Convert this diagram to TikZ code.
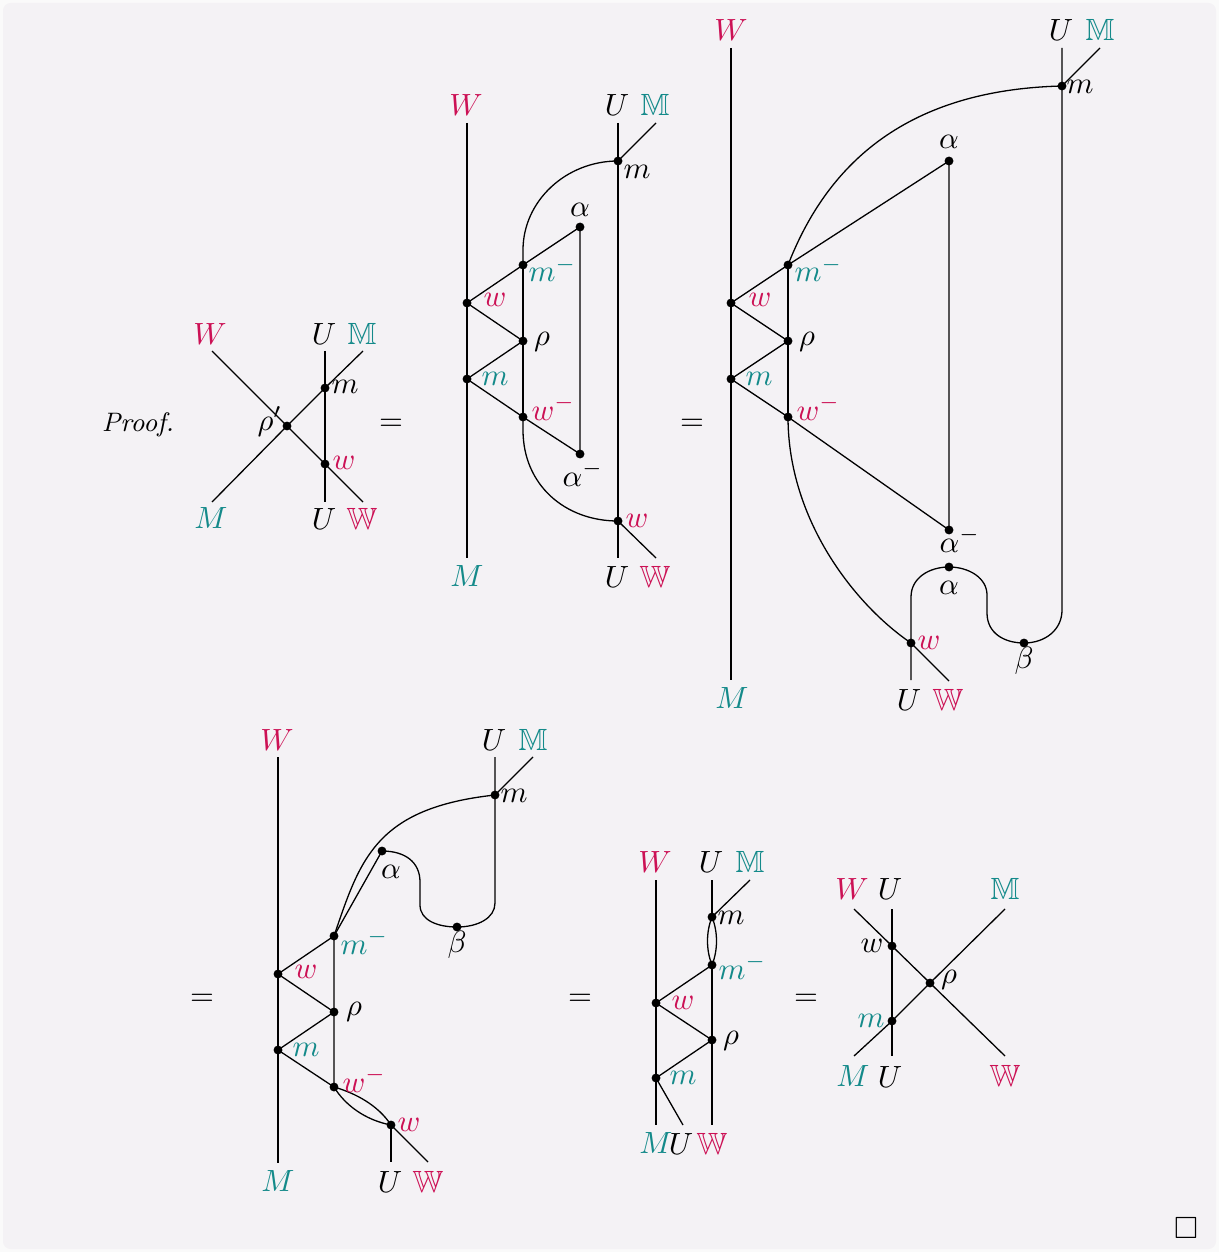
\documentclass[tikz,border=0pt]{standalone}
\usepackage{amssymb}
\definecolor{crim}{RGB}{204,17,85}
\definecolor{tealc}{RGB}{20,138,138}
\definecolor{bgc}{RGB}{244,242,245}
\definecolor{outc}{RGB}{250,250,250}
\begin{document}
\begin{tikzpicture}[x=0.3257pt,y=-0.3257pt,
  dot/.style={circle,fill=black,inner sep=0pt,minimum size=2.9pt},
  lab/.style={inner sep=0pt},
  wire/.style={line width=0.42pt},
  cr/.style={text=crim}, tl/.style={text=tealc}]
\fill[outc] (0,0) rectangle (1219,1252);
\fill[bgc, rounded corners=2.5pt] (3,3) rectangle (1216,1249);
\useasboundingbox (0,0) rectangle (1219,1252);

% ---------- Diagram 1 ----------
\coordinate (a1) at (212,351);
\coordinate (a2) at (363,502);
\coordinate (a3) at (212,502);
\coordinate (a4) at (363,351);
\coordinate (a5) at (325,351);
\coordinate (a6) at (325,502);
\node[dot] (arho) at (287,426) {};
\node[dot] (am) at (325,388) {};
\node[dot] (aw) at (325,464) {};
\draw[wire] (a1) -- (arho.center) -- (aw.center) -- (a2);
\draw[wire] (a3) -- (arho.center) -- (am.center) -- (a4);
\draw[wire] (a5) -- (am.center) -- (aw.center) -- (a6);
\node[lab,cr] (aW) at (210,334) {$W$};
\node[lab] (aU1) at (324,334) {$U$};
\node[lab,tl] (aMM) at (362,334) {$\mathbb{M}$};
\node[lab,tl] (aM) at (211,518) {$M$};
\node[lab] (aU2) at (324,519) {$U$};
\node[lab,cr] (aWW) at (362,519) {$\mathbb{W}$};
\node[lab,anchor=west] (amL) at (331,387) {$m$};
\node[lab,cr,anchor=west] (awL) at (332,463) {$w$};
\node[lab,anchor=base west] (arhoL) at (257,430) {$\rho'$};
\node[lab] (proof) at (138,425) {\fontsize{8.7}{10}\selectfont\itshape Proof.};
\node[lab] (eq1) at (391,425) {$=$};

% ---------- Diagram 2 ----------
\coordinate (b1) at (467,123);
\coordinate (b2) at (467,558);
\coordinate (b3) at (618,123);
\coordinate (b4) at (618,558);
\coordinate (b5) at (656,123);
\coordinate (b6) at (656,558);
\node[dot] (bm) at (618,161) {};
\node[dot] (bmm) at (523,265) {};
\node[dot] (balpha) at (580,227) {};
\node[dot] (bw) at (467,303) {};
\node[dot] (brho) at (523,341) {};
\node[dot] (bmd) at (467,379) {};
\node[dot] (bwm) at (523,417) {};
\node[dot] (balm) at (580,454) {};
\node[dot] (bwd) at (618,521) {};
\draw[wire] (b1) -- (bw.center) -- (bmd.center) -- (b2);
\draw[wire] (b3) -- (bm.center) -- (bwd.center) -- (b4);
\draw[wire] (b5) -- (bm.center);
\draw[wire] (bwd.center) -- (b6);
\draw[wire] (bm.center) .. controls (566,161) and (523,201) .. (523,250) -- (bmm.center);
\draw[wire] (bmm.center) -- (brho.center) -- (bwm.center);
\draw[wire] (bw.center) -- (bmm.center) -- (balpha.center) -- (balm.center) -- (bwm.center);
\draw[wire] (bw.center) -- (brho.center) -- (bmd.center) -- (bwm.center);
\draw[wire] (bwm.center) -- (523,430) .. controls (523,485) and (565,521) .. (bwd.center);
\node[lab,cr] (bW) at (466,105) {$W$};
\node[lab,tl] (bM) at (467,576) {$M$};
\node[lab] (bU1) at (617,105) {$U$};
\node[lab,tl] (bMM) at (655,105) {$\mathbb{M}$};
\node[lab] (bU2) at (617,577) {$U$};
\node[lab,cr] (bWW) at (655,577) {$\mathbb{W}$};
\node[lab] (bmL) at (637,172) {$m$};
\node[lab] (balphaL) at (580,210) {$\alpha$};
\node[lab,tl,anchor=base west] (bmmL) at (528,282) {$m^-$};
\node[lab,cr] (bwL) at (495,300) {$w$};
\node[lab] (brhoL) at (542,342) {$\rho$};
\node[lab,tl] (bmdL) at (495,379) {$m$};
\node[lab,cr,anchor=base west] (bwmL) at (531,420) {$w^-$};
\node[lab,anchor=base west] (balmL) at (562,486) {$\alpha^-$};
\node[lab,cr] (bwdL) at (637,521) {$w$};
\node[lab] (eq2) at (692,425) {$=$};

% ---------- Diagram 3 ----------
\coordinate (c1) at (731,48);
\coordinate (c2) at (731,680);
\coordinate (c3) at (1062,48);
\coordinate (c5) at (1100,48);
\coordinate (c6) at (911,680);
\coordinate (c7) at (949,681);
\node[dot] (cm) at (1062,86) {};
\node[dot] (calpha) at (949,161) {};
\node[dot] (cmm) at (788,265) {};
\node[dot] (cw) at (731,303) {};
\node[dot] (crho) at (788,341) {};
\node[dot] (cmd) at (731,379) {};
\node[dot] (cwm) at (788,417) {};
\node[dot] (calm) at (949,530) {};
\node[dot] (calpha2) at (949,567) {};
\node[dot] (cwd) at (911,643) {};
\node[dot] (cbeta) at (1024,643) {};
\draw[wire] (c1) -- (cw.center) -- (cmd.center) -- (c2);
\draw[wire] (c5) -- (cm.center);
\draw[wire] (c3) -- (cm.center) -- (1062,610) .. controls (1062,630) and (1045,643) .. (cbeta.center)
   .. controls (1004,643) and (987,633) .. (987,613) -- (987,595)
   .. controls (987,578) and (969,567) .. (calpha2.center)
   .. controls (929,567) and (911,578) .. (911,597) -- (cwd.center) -- (c6);
\draw[wire] (cwd.center) -- (c7);
\draw[wire] (cmm.center) .. controls (825,170) and (900,90) .. (cm.center);
\draw[wire] (cwm.center) .. controls (788,520) and (855,605) .. (cwd.center);
\draw[wire] (cmm.center) -- (crho.center) -- (cwm.center);
\draw[wire] (cw.center) -- (cmm.center) -- (calpha.center) -- (calm.center) -- (cwm.center);
\draw[wire] (cw.center) -- (crho.center) -- (cmd.center) -- (cwm.center);
\node[lab,cr] (cW) at (731,30) {$W$};
\node[lab] (cU1) at (1061,30) {$U$};
\node[lab,tl] (cMM) at (1100,30) {$\mathbb{M}$};
\node[lab,tl] (cM) at (732,698) {$M$};
\node[lab] (cU2) at (909,700) {$U$};
\node[lab,cr] (cWW) at (948,700) {$\mathbb{W}$};
\node[lab] (cmL) at (1080,87) {$m$};
\node[lab] (calphaL) at (949,142) {$\alpha$};
\node[lab,tl,anchor=base west] (cmmL) at (794,282) {$m^-$};
\node[lab,cr] (cwL) at (760,300) {$w$};
\node[lab] (crhoL) at (807,342) {$\rho$};
\node[lab,tl] (cmdL) at (759,379) {$m$};
\node[lab,cr,anchor=base west] (cwmL) at (796,420) {$w^-$};
\node[lab,anchor=base west] (calmL) at (939,552) {$\alpha^-$};
\node[lab] (calpha2L) at (949,588) {$\alpha$};
\node[lab,cr] (cwdL) at (929,643) {$w$};
\node[lab] (cbetaL) at (1024,661) {$\beta$};

% ---------- Diagram 4 ----------
\coordinate (d1) at (278,757);
\coordinate (d2) at (278,1163);
\coordinate (d3) at (495,757);
\coordinate (d5) at (533,757);
\coordinate (d6) at (391,1162);
\coordinate (d7) at (428,1162);
\node[dot] (dm) at (495,795) {};
\node[dot] (dalpha) at (382,851) {};
\node[dot] (dbeta) at (457,927) {};
\node[dot] (dmm) at (334,936) {};
\node[dot] (dw) at (278,974) {};
\node[dot] (drho) at (334,1012) {};
\node[dot] (dmd) at (278,1050) {};
\node[dot] (dwm) at (334,1087) {};
\node[dot] (dwd) at (391,1125) {};
\draw[wire] (d1) -- (dw.center) -- (dmd.center) -- (d2);
\draw[wire] (d5) -- (dm.center);
\draw[wire] (d3) -- (dm.center) -- (495,903) .. controls (495,918) and (478,927) .. (dbeta.center)
   .. controls (437,927) and (420,920) .. (420,905) -- (420,882)
   .. controls (420,862) and (405,851) .. (dalpha.center);
\draw[wire] (dmm.center) .. controls (360,860) and (375,808) .. (dm.center);
\draw[wire] (dmm.center) -- (dalpha.center);
\draw[wire] (dw.center) -- (dmm.center) -- (drho.center) -- (dwm.center);
\draw[wire] (dw.center) -- (drho.center) -- (dmd.center) -- (dwm.center);
\draw[wire] (dwm.center) .. controls (355,1093) and (378,1105) .. (dwd.center);
\draw[wire] (dwm.center) .. controls (345,1105) and (365,1120) .. (dwd.center);
\draw[wire] (dwd.center) -- (d6);
\draw[wire] (dwd.center) -- (d7);
\node[lab,cr] (dW) at (277,740) {$W$};
\node[lab] (dU1) at (494,740) {$U$};
\node[lab,tl] (dMM) at (533,740) {$\mathbb{M}$};
\node[lab,tl] (dM) at (278,1181) {$M$};
\node[lab] (dU2) at (390,1182) {$U$};
\node[lab,cr] (dWW) at (428,1182) {$\mathbb{W}$};
\node[lab] (dmL) at (514,796) {$m$};
\node[lab] (dalphaL) at (391,872) {$\alpha$};
\node[lab] (dbetaL) at (457,945) {$\beta$};
\node[lab,tl,anchor=base west] (dmmL) at (340,954) {$m^-$};
\node[lab,cr] (dwL) at (306,972) {$w$};
\node[lab] (drhoL) at (354,1012) {$\rho$};
\node[lab,tl] (dmdL) at (306,1050) {$m$};
\node[lab,cr,anchor=base west] (dwmL) at (342,1092) {$w^-$};
\node[lab,cr] (dwdL) at (409,1125) {$w$};
\node[lab] (eq3) at (202,1000) {$=$};
\node[lab] (eq4) at (580,1000) {$=$};

% ---------- Diagram 5 ----------
\coordinate (e1) at (656,880);
\coordinate (e2) at (656,1125);
\coordinate (e3) at (712,880);
\coordinate (e4) at (712,1125);
\coordinate (e5) at (750,880);
\coordinate (e6) at (683,1125);
\node[dot] (em) at (712,917) {};
\node[dot] (emm) at (712,965) {};
\node[dot] (ew) at (656,1003) {};
\node[dot] (erho) at (712,1040) {};
\node[dot] (emd) at (656,1078) {};
\draw[wire] (e1) -- (ew.center) -- (emd.center) -- (e2);
\draw[wire] (e3) -- (em.center);
\draw[wire] (e5) -- (em.center);
\draw[wire] (em.center) .. controls (706,932) and (706,950) .. (emm.center);
\draw[wire] (em.center) .. controls (718,932) and (718,950) .. (emm.center);
\draw[wire] (emm.center) -- (erho.center) -- (e4);
\draw[wire] (ew.center) -- (emm.center);
\draw[wire] (ew.center) -- (erho.center) -- (emd.center) -- (e6);
\node[lab,cr] (eW) at (655,862) {$W$};
\node[lab] (eU1) at (711,862) {$U$};
\node[lab,tl] (eMM) at (750,862) {$\mathbb{M}$};
\node[lab] (emL) at (731,918) {$m$};
\node[lab,tl,anchor=base west] (emmL) at (718,979) {$m^-$};
\node[lab,cr] (ewL) at (683,1003) {$w$};
\node[lab] (erhoL) at (731,1041) {$\rho$};
\node[lab,tl] (emdL) at (683,1078) {$m$};
\node[lab,tl] (eM) at (656,1143) {$M$};
\node[lab] (eU2) at (681,1144) {$U$};
\node[lab,cr] (eWW) at (712,1144) {$\mathbb{W}$};
\node[lab] (eq5) at (806,1000) {$=$};

% ---------- Diagram 6 ----------
\coordinate (f1) at (854,909);
\coordinate (f2) at (1005,1056);
\coordinate (f3) at (854,1056);
\coordinate (f4) at (1005,909);
\coordinate (f5) at (892,909);
\coordinate (f6) at (892,1056);
\node[dot] (fw) at (892,946) {};
\node[dot] (frho) at (930,983) {};
\node[dot] (fm) at (892,1021) {};
\draw[wire] (f1) -- (fw.center) -- (frho.center) -- (f2);
\draw[wire] (f3) -- (fm.center) -- (frho.center) -- (f4);
\draw[wire] (f5) -- (fw.center) -- (fm.center) -- (f6);
\node[lab,cr] (fW) at (852,889) {$W$};
\node[lab] (fU1) at (890,889) {$U$};
\node[lab,tl] (fMM) at (1005,889) {$\mathbb{M}$};
\node[lab] (fwL) at (872,946) {$w$};
\node[lab,tl] (fmL) at (871,1021) {$m$};
\node[lab] (frhoL) at (949,980) {$\rho$};
\node[lab,tl] (fM) at (853,1076) {$M$};
\node[lab] (fU2) at (890,1077) {$U$};
\node[lab,cr] (fWW) at (1005,1076) {$\mathbb{W}$};

\node[lab] (qed) at (1186,1228) {$\square$};
\end{tikzpicture}
\end{document}
